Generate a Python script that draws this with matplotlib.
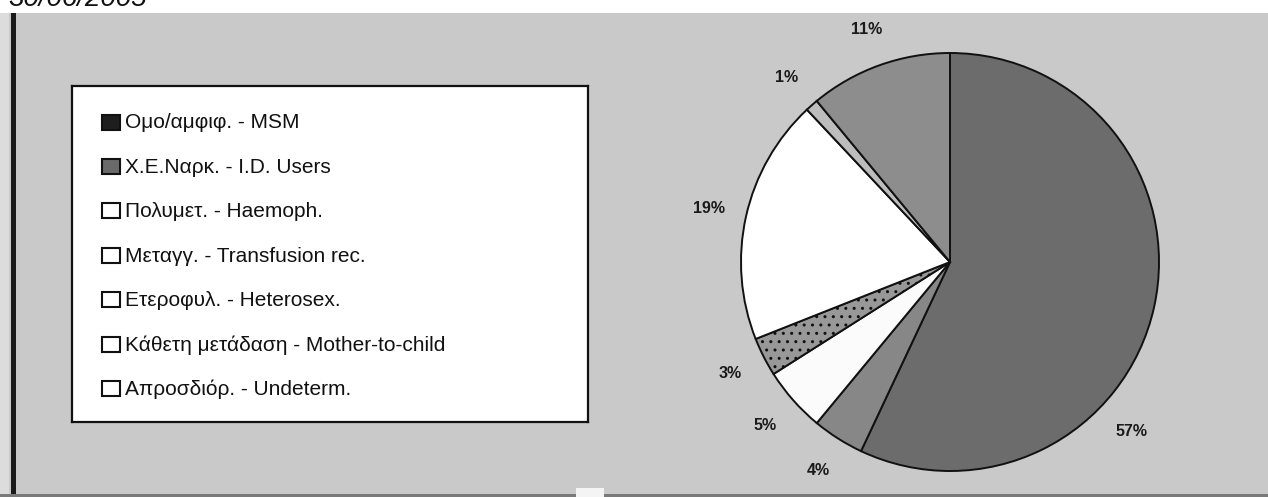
import matplotlib
matplotlib.use("Agg")
import matplotlib.pyplot as plt
from matplotlib.patches import Rectangle
import numpy as np

W, H = 1268, 497

# ---- data ----
categories = ["Ομο/αμφιφ. - MSM",
              "Χ.Ε.Ναρκ. - I.D. Users",
              "Πολυμετ. - Haemoph.",
              "Μεταγγ. - Transfusion rec.",
              "Ετεροφυλ. - Heterosex.",
              "Κάθετη μετάδαση - Mother-to-child",
              "Απροσδιόρ. - Undeterm."]
legend_labels = ["Ομo/αμφιφ. - MSM",
                 "Χ.Ε.Ναρκ. - I.D. Users",
                 "Πολυμετ. - Haemoph.",
                 "Μεταγγ. - Transfusion rec.",
                 "Ετεροφυλ. - Heterosex.",
                 "Κάθετη μετάδαση - Mother-to-child",
                 "Απροσδιόρ. - Undeterm."]
percentages = [57, 4, 5, 3, 19, 1, 11]
pct_labels = ["57%", "4%", "5%", "3%", "19%", "1%", "11%"]
date_text = "30/06/2005"

# ---- styles ----
slice_colors = ["#6c6c6c", "#878787", "#fbfbfb", "#989898", "#ffffff", "#bdbdbd", "#8d8d8d"]
slice_hatch = [None, None, None, "..", None, None, None]
legend_fill = ["#1e1e1e", "#6a6a6a", "#ffffff", "#ffffff", "#ffffff", "#ffffff", "#ffffff"]
bg_grey = "#c9c9c9"

fig = plt.figure(figsize=(W / 100, H / 100), dpi=100, facecolor="white")

# scanned page background
fig.add_artist(Rectangle((9 / W, 0), 1 - 9 / W, 1 - 13 / H, transform=fig.transFigure,
                         facecolor=bg_grey, edgecolor="none", zorder=0))
fig.add_artist(Rectangle((0, 0), 9 / W, 1 - 13 / H, transform=fig.transFigure,
                         facecolor="#dcdcdc", edgecolor="none", zorder=0))
fig.add_artist(Rectangle((11 / W, 0), 5 / W, 1 - 13 / H, transform=fig.transFigure,
                         facecolor="#1a1a1a", edgecolor="none", zorder=1))
fig.add_artist(Rectangle((0, 0), 1, 3 / H, transform=fig.transFigure,
                         facecolor="#7a7a7a", edgecolor="none", zorder=1))
fig.add_artist(Rectangle((576 / W, 0), 28 / W, 9 / H, transform=fig.transFigure,
                         facecolor="#f4f4f4", edgecolor="none", zorder=1))

fig.text(8 / W, 1 - 6 / H, date_text, fontsize=20, style="italic",
         family=["Liberation Sans", "DejaVu Sans"], va="baseline", ha="left", color="#111111")

# ---- pie ----
R = 209
cx, cy = 950, 262
ax = fig.add_axes([(cx - R) / W, 1 - (cy + R) / H, 2 * R / W, 2 * R / H])
wedges, texts = ax.pie(percentages, labels=pct_labels, colors=slice_colors,
                       startangle=90, counterclock=False, radius=1.0,
                       labeldistance=1.18,
                       wedgeprops=dict(edgecolor="#111111", linewidth=1.4),
                       textprops=dict(fontsize=11.5, fontweight="bold", color="#1a1a1a",
                                      family=["Liberation Sans", "DejaVu Sans"]))
for w, h in zip(wedges, slice_hatch):
    if h:
        w.set_hatch(h)
for t in texts:
    t.set_ha("center")
    t.set_va("center")
# Excel shifted the big slice's label towards lower right
ang = np.deg2rad(90 - 133)
texts[0].set_position((1.19 * np.cos(ang), 1.19 * np.sin(ang)))
ax.set_xlim(-1, 1)
ax.set_ylim(-1, 1)
ax.set_aspect("equal")
ax.axis("off")

# ---- legend box ----
lx0, lx1, ly0, ly1 = 72, 588, 86, 422
lax = fig.add_axes([lx0 / W, 1 - ly1 / H, (lx1 - lx0) / W, (ly1 - ly0) / H])
lax.set_xlim(0, lx1 - lx0)
lax.set_ylim(ly1 - ly0, 0)
lax.set_facecolor("white")
for s in lax.spines.values():
    s.set_color("#111111")
    s.set_linewidth(1.6)
lax.set_xticks([])
lax.set_yticks([])
row0, step = 36, 44.4
for i, (lab, fc) in enumerate(zip(legend_labels, legend_fill)):
    y = row0 + i * step
    lax.add_patch(Rectangle((30, y - 7.5), 18, 15, facecolor=fc,
                            edgecolor="#111111", linewidth=1.5))
    lax.text(53, y + 1, lab, fontsize=15, va="center", ha="left", color="#111111",
             family=["Liberation Sans Narrow", "Liberation Sans", "DejaVu Sans"])

fig.savefig("out.png", dpi=100, facecolor=fig.get_facecolor())
